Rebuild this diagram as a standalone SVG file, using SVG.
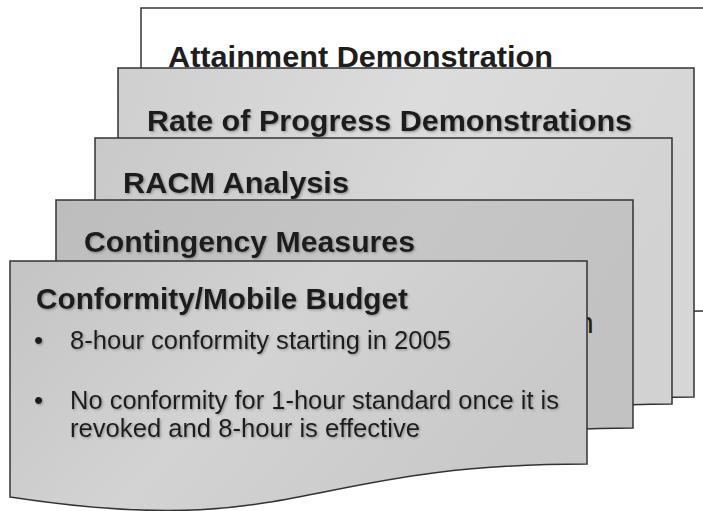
<svg xmlns="http://www.w3.org/2000/svg" width="703" height="511" viewBox="0 0 703 511">
<defs>
<linearGradient id="g2" x1="0" y1="0" x2="1" y2="0.3"><stop offset="0" stop-color="#cfcfcf"/><stop offset="0.5" stop-color="#dcdcdc"/><stop offset="1" stop-color="#d6d6d6"/></linearGradient>
<linearGradient id="g3" x1="0" y1="0" x2="1" y2="0.3"><stop offset="0" stop-color="#c9c9c9"/><stop offset="0.6" stop-color="#d8d8d8"/><stop offset="1" stop-color="#d2d2d2"/></linearGradient>
<linearGradient id="g4" x1="0" y1="0" x2="1" y2="0.3"><stop offset="0" stop-color="#bdbdbd"/><stop offset="0.6" stop-color="#c6c6c6"/><stop offset="1" stop-color="#c2c2c2"/></linearGradient>
<linearGradient id="g5" x1="0" y1="0" x2="1" y2="0.4"><stop offset="0" stop-color="#c4c4c4"/><stop offset="0.5" stop-color="#d3d3d3"/><stop offset="1" stop-color="#c9c9c9"/></linearGradient>
<filter id="sh" x="-5%" y="-20%" width="110%" height="140%"><feDropShadow dx="1.2" dy="1.2" stdDeviation="0.8" flood-color="#666" flood-opacity="0.6"/></filter>
</defs>
<style>
.pg{stroke:#333;stroke-width:1.5}
.t{font-family:"Liberation Sans",Arial,sans-serif;fill:#1e1e1e}
.h{font-weight:bold;font-size:30px;filter:url(#sh)}
.b{font-size:26px;filter:url(#sh)}
</style>
<g id="page1">
<path class="pg" fill="#fff" d="M141,8 H718 V311 C429.5,311 429.5,394 141,361 Z"/>
<text class="t" x="168" y="67" font-size="30" font-weight="bold" textLength="385" lengthAdjust="spacingAndGlyphs">Attainment Demonstration</text>
</g>
<g id="page2">
<path class="pg" fill="url(#g2)" d="M118,68 H694 V397 C406,397 406,522 118,451 Z"/>
<text class="t h" x="147" y="131" textLength="485" lengthAdjust="spacingAndGlyphs">Rate of Progress Demonstrations</text>
</g>
<g id="page3">
<path class="pg" fill="url(#g3)" d="M95,138 H672 V404 C383.5,404 383.5,506 95,448 Z"/>
<text class="t h" x="123" y="193" textLength="226" lengthAdjust="spacingAndGlyphs">RACM Analysis</text>
</g>
<g id="page4">
<path class="pg" fill="url(#g4)" d="M56,200 H633 V428 C344.5,428 344.5,515 56,465 Z"/>
<text class="t h" x="84" y="252" textLength="331" lengthAdjust="spacingAndGlyphs">Contingency Measures</text>
<text class="t" x="577" y="333" font-size="30">n</text>
</g>
<g id="page5">
<path class="pg" fill="url(#g5)" d="M10,261 H587 V464 C298.5,464 298.5,541 10,497 Z"/>
<text class="t h" x="36" y="309" textLength="372" lengthAdjust="spacingAndGlyphs">Conformity/Mobile Budget</text>
<text class="t b" x="34" y="349">•</text>
<text class="t b" x="70" y="349" textLength="381" lengthAdjust="spacingAndGlyphs">8-hour conformity starting in 2005</text>
<text class="t b" x="34" y="409">•</text>
<text class="t b" x="70" y="409" textLength="489" lengthAdjust="spacingAndGlyphs">No conformity for 1-hour standard once it is</text>
<text class="t b" x="70" y="437" textLength="350" lengthAdjust="spacingAndGlyphs">revoked and 8-hour is effective</text>
</g>
</svg>
